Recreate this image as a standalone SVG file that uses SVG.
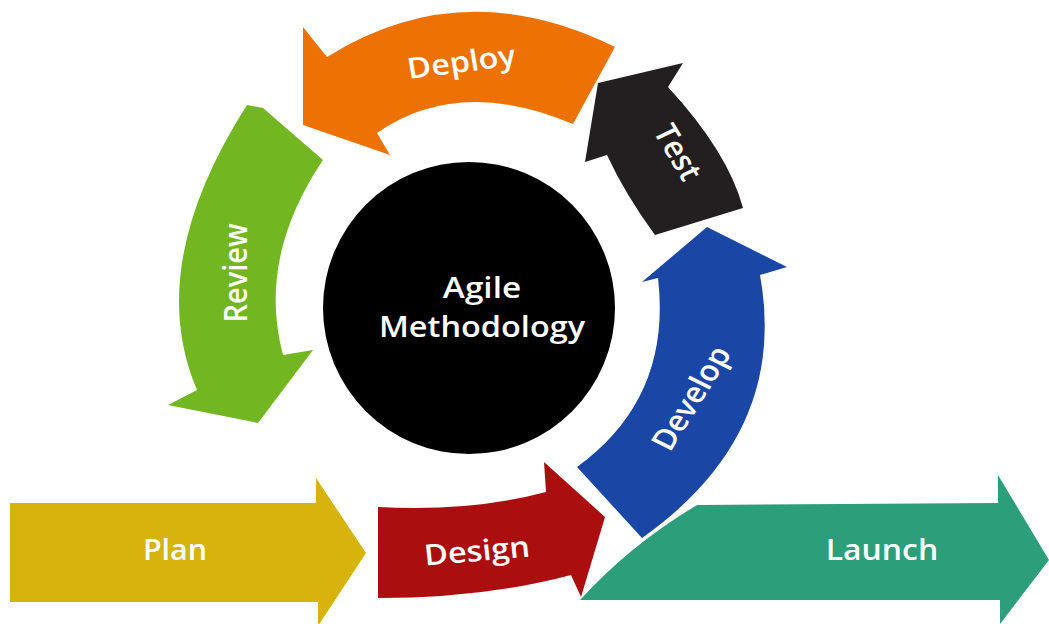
<svg xmlns="http://www.w3.org/2000/svg" width="1049" height="624" viewBox="0 0 1049 624">
<style>
.lbl{font-family:"Open Sans","Liberation Sans",sans-serif;font-weight:600;font-size:29px;fill:#fff;text-anchor:middle}
</style>
<rect width="1049" height="624" fill="#fff"/>
<g id="connectors"></g>
<g id="deploy">
<path d="M327,57 Q463,-28 615,47 L573,124 Q459,76 377,133 L390,155 L303,125 L303,27 Z" fill="#EE7203"/>
<text class="lbl" transform="translate(463,72) scale(1.12,1) rotate(-8.4)">Deploy</text>
</g>
<g id="test">
<path d="M668,87 Q728,152 743,208 L655,235 Q625,194 607,155 L585,162 L598,83 L683,63 Z" fill="#231F20"/>
<text class="lbl" transform="translate(668,157) scale(1.12,1) rotate(62)">Test</text>
</g>
<g id="review">
<path d="M247,105 L263,108 L323,160 Q257,258 283,355 L313,350 L258,423 L168,405 L197,390 Q144,266 247,105 Z" fill="#72B722"/>
<text class="lbl" transform="translate(247,273) scale(1.15,1) rotate(-90)">Review</text>
</g>
<g id="develop">
<path d="M577,467 Q672,398 658,278 L642,282 L707,227 L787,267 L760,275 Q789,434 642,538 Z" fill="#1A47A5"/>
<text class="lbl" transform="translate(701,403) scale(1.12,1) rotate(-61)">Develop</text>
</g>
<g id="plan">
<path d="M10,503 L316,503 L316,478 L366,553 L318,626 L318,602 L10,602 Z" fill="#D7B30D"/>
<text class="lbl" transform="translate(175,560) scale(1.05,1)">Plan</text>
</g>
<g id="design">
<path d="M378,507 Q470,512 546,492 L544,462 L605,517 L581,597 L571,575 Q485,598 378,598 Z" fill="#AB0E0F"/>
<text class="lbl" transform="translate(478,561) scale(1.12,1) rotate(-5.4)">Design</text>
</g>
<g id="launch">
<path d="M697,505 L998,503 L998,475 L1049,560 L1000,624 L1000,600 L580,600 Q630,545 697,505 Z" fill="#2C9F7A"/>
<text class="lbl" transform="translate(882,560) scale(1.1,1)">Launch</text>
</g>
<g id="agile">
<circle cx="469" cy="308" r="146" fill="#000"/>
<text class="lbl" transform="translate(482,298) scale(1.15,1)">Agile</text>
<text class="lbl" transform="translate(482,337) scale(1.12,1)">Methodology</text>
</g>
</svg>
